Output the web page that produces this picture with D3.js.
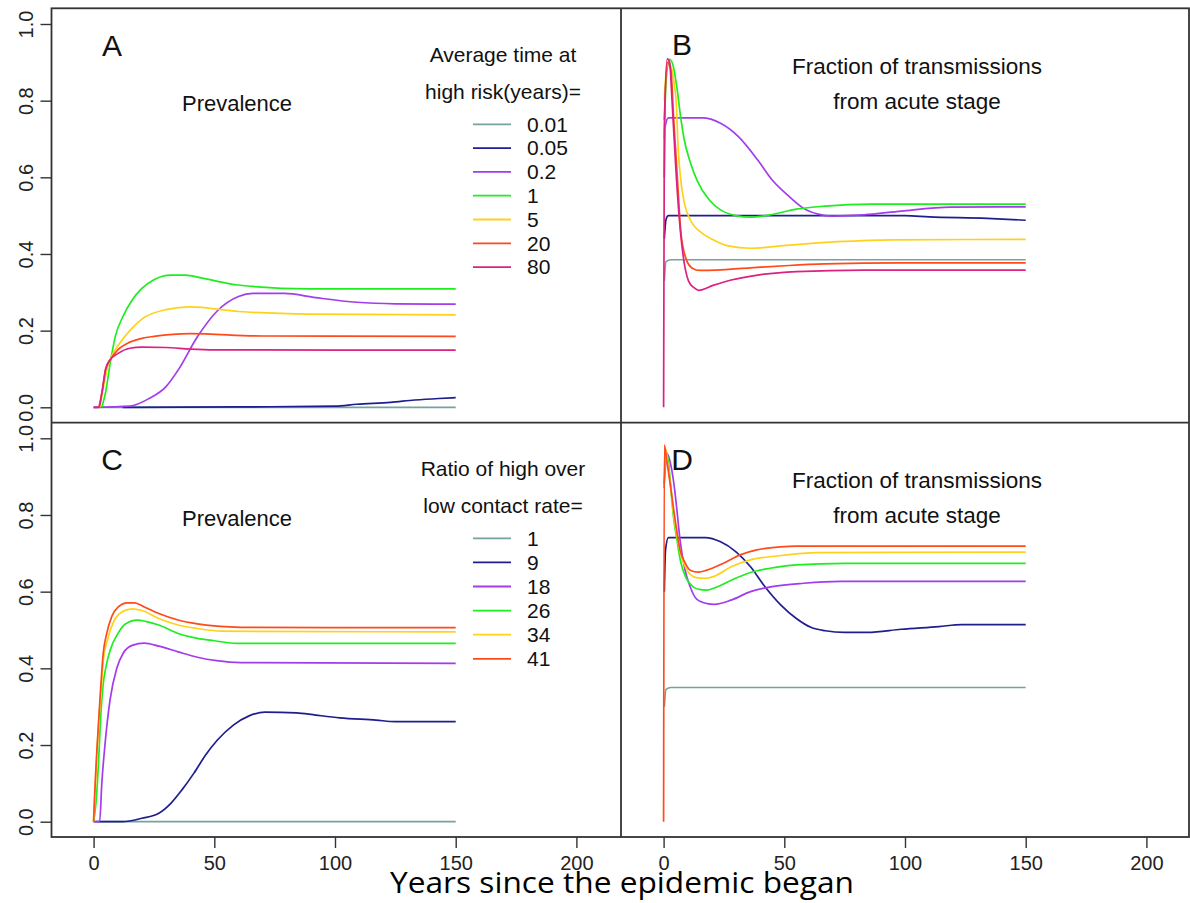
<!DOCTYPE html>
<html>
<head>
<meta charset="utf-8">
<script src="https://cdn.jsdelivr.net/npm/d3@7"></script>
<style>
  body { margin: 0; background: #fff; }
  svg { display: block; }
  .lab { font-family: "Liberation Sans", Arial, sans-serif; fill: #111; }
  .tick text { font-family: "Liberation Sans", Arial, sans-serif; font-size: 20px; fill: #222; }
</style>
</head>
<body>
<svg id="chart" width="1190" height="903"></svg>
<script>
// tick values
const xTicks = [0, 50, 100, 150, 200];
const yTicks = [0, 0.2, 0.4, 0.6, 0.8, 1.0];

// legend labels
const legendA = ['0.01', '0.05', '0.2', '1', '5', '20', '80'];
const legendC = ['1', '9', '18', '26', '34', '41'];
const colors = ['#76A2A2', '#1E1E8E', '#A23CEC', '#1EEE1E', '#FFD21A', '#FF4A1A', '#DA2282'];

// Panel A: prevalence, one curve per average time at high risk  [year, value]
const panelA = [
  [[0, 0], [150, 0]],
  [[12, 0], [60, 0.001], [100, 0.003], [109, 0.008], [123, 0.013], [133, 0.019], [143, 0.023], [150, 0.025]],
  [[0, 0], [15, 0.003], [23, 0.023], [30, 0.054], [35, 0.097], [43, 0.184], [51, 0.25], [60, 0.289], [66, 0.297], [79, 0.297], [92, 0.286], [109, 0.274], [125, 0.27], [150, 0.269]],
  [[3.4, 0], [5, 0.04], [7, 0.12], [9, 0.185], [12, 0.235], [16, 0.28], [20, 0.31], [25, 0.333], [32, 0.345], [38, 0.345], [45, 0.337], [60, 0.319], [89, 0.309], [150, 0.309]],
  [[2.5, 0], [4, 0.05], [6, 0.11], [8, 0.14], [10, 0.16], [15, 0.2], [20, 0.23], [30, 0.255], [40, 0.262], [60, 0.25], [90, 0.243], [150, 0.241]],
  [[2.2, 0], [3.5, 0.04], [5, 0.1], [7, 0.125], [10, 0.15], [15, 0.17], [20, 0.18], [25, 0.185], [40, 0.192], [70, 0.186], [150, 0.185]],
  [[0, 0], [2.2, 0], [3.5, 0.04], [5, 0.1], [7, 0.125], [10, 0.14], [15, 0.154], [20, 0.157], [30, 0.156], [40, 0.152], [50, 0.15], [150, 0.149]]
];

// Panel B: fraction of transmissions from acute stage
const panelB = [
  [[0.3, 0.33], [1, 0.38], [3, 0.385], [150, 0.385]],
  [[0.3, 0.44], [1, 0.49], [2, 0.5], [100, 0.5], [110, 0.497], [134, 0.493], [150, 0.488]],
  [[0.3, 0.6], [0.6, 0.73], [2, 0.755], [16, 0.755], [23.6, 0.741], [31, 0.706], [39, 0.645], [45, 0.593], [52, 0.55], [58, 0.519], [64, 0.504], [70, 0.499], [83, 0.502], [98.5, 0.512], [119, 0.522], [150, 0.523]],
  [[0.3, 0.7], [1, 0.85], [2.5, 0.908], [4, 0.89], [5.6, 0.83], [7, 0.76], [8.5, 0.7], [11, 0.64], [14, 0.59], [19, 0.54], [23.6, 0.515], [30, 0.5], [36, 0.496], [44, 0.502], [55, 0.517], [67, 0.525], [86, 0.53], [150, 0.53]],
  [[0.3, 0.8], [1.5, 0.9], [3, 0.89], [4.5, 0.84], [5.3, 0.79], [6, 0.68], [7, 0.6], [8.7, 0.53], [11, 0.49], [15.8, 0.455], [20.5, 0.437], [26.7, 0.421], [36, 0.415], [52, 0.423], [72, 0.432], [95, 0.437], [150, 0.438]],
  [[0.3, 0.75], [1.5, 0.9], [3, 0.88], [4.2, 0.75], [5.6, 0.61], [7.2, 0.454], [9.5, 0.384], [11.9, 0.363], [15, 0.357], [22, 0.358], [36, 0.364], [52, 0.37], [67, 0.374], [98, 0.377], [150, 0.377]],
  [[0, 0], [0.3, 0.72], [1.5, 0.909], [2.5, 0.9], [3.5, 0.8], [5, 0.63], [6.4, 0.5], [8, 0.4], [10.3, 0.33], [12.6, 0.312], [14.5, 0.305], [20.5, 0.318], [28, 0.332], [39, 0.345], [55, 0.354], [83, 0.358], [150, 0.358]]
];

// Panel C: prevalence, one curve per ratio of high over low contact rate
const panelC = [
  [[2, 0], [150, 0]],
  [[0, 0], [12, 0], [20, 0.009], [27, 0.022], [32, 0.048], [36.6, 0.083], [41.5, 0.126], [46.4, 0.174], [51.3, 0.213], [57.9, 0.252], [64.4, 0.276], [71, 0.286], [84, 0.284], [92, 0.278], [102, 0.271], [117, 0.265], [125, 0.261], [150, 0.261]],
  [[0, 0], [2.5, 0], [3.4, 0.1], [4.7, 0.2], [6.8, 0.317], [9.6, 0.4], [12.3, 0.44], [16, 0.46], [21, 0.466], [27, 0.458], [35, 0.443], [43, 0.429], [51, 0.42], [61, 0.415], [150, 0.413]],
  [[0, 0], [1, 0.05], [2, 0.15], [3, 0.28], [4, 0.36], [5, 0.4], [7, 0.45], [10, 0.49], [13, 0.515], [18, 0.526], [22, 0.522], [27, 0.513], [35, 0.491], [43, 0.478], [50, 0.472], [59.5, 0.465], [150, 0.465]],
  [[0, 0], [0.8, 0.1], [2, 0.25], [3, 0.33], [4, 0.42], [6, 0.48], [9, 0.53], [12, 0.548], [16, 0.555], [20, 0.551], [27, 0.53], [35, 0.513], [43, 0.504], [53, 0.497], [150, 0.495]],
  [[0, 0], [0.3, 0.05], [1.3, 0.18], [2.7, 0.326], [4, 0.44], [5.4, 0.49], [7.5, 0.535], [10.2, 0.56], [14, 0.571], [17, 0.571], [21, 0.56], [27, 0.543], [35, 0.526], [43, 0.516], [51, 0.51], [61, 0.507], [150, 0.506]]
];

// Panel D: fraction of transmissions from acute stage
const panelD = [
  [[0.3, 0.3], [1, 0.345], [3, 0.35], [150, 0.35]],
  [[0.3, 0.6], [0.8, 0.709], [2, 0.741], [17.3, 0.741], [23.6, 0.73], [30, 0.704], [36, 0.665], [42, 0.613], [48.6, 0.565], [55, 0.53], [61, 0.507], [67, 0.498], [75, 0.494], [84.5, 0.494], [98.5, 0.502], [114, 0.509], [123.5, 0.514], [150, 0.514]],
  [[0.2, 0.88], [1.5, 0.96], [3, 0.93], [4.5, 0.87], [5.4, 0.82], [6.8, 0.735], [8.9, 0.656], [11, 0.613], [13.8, 0.58], [18, 0.569], [21, 0.567], [28, 0.578], [36, 0.6], [45, 0.613], [58, 0.622], [73.5, 0.627], [150, 0.627]],
  [[0.2, 0.87], [1, 0.965], [2, 0.94], [3, 0.87], [4, 0.8], [5.4, 0.74], [7, 0.68], [9, 0.64], [11, 0.62], [14, 0.607], [18, 0.604], [22, 0.612], [28, 0.63], [36, 0.65], [44, 0.661], [55, 0.67], [75, 0.674], [150, 0.674]],
  [[0.2, 0.9], [0.7, 0.975], [2, 0.92], [3, 0.87], [4, 0.81], [5.4, 0.75], [7, 0.7], [9, 0.665], [11, 0.645], [14, 0.636], [17, 0.635], [21, 0.64], [28, 0.665], [36, 0.683], [47, 0.693], [64, 0.702], [150, 0.703]],
  [[0, 0], [0.3, 0.982], [1.3, 0.943], [2.7, 0.883], [4, 0.822], [5.4, 0.761], [6.8, 0.709], [8.9, 0.675], [11, 0.656], [14.4, 0.651], [17.9, 0.656], [24.8, 0.674], [31.7, 0.696], [38.6, 0.709], [48.3, 0.717], [55, 0.719], [150, 0.719]]
];

const svg = d3.select('#chart');

// scales
const xLeft = d3.scaleLinear().domain([0, 200]).range([93.6, 576.4]);
const xRight = d3.scaleLinear().domain([0, 200]).range([663.6, 1146.4]);
const yTop = d3.scaleLinear().domain([0, 1]).range([407.3, 24]);
const yBottom = d3.scaleLinear().domain([0, 1]).range([821.7, 438.3]);

// frame
const frame = { left: 51.5, right: 1189, top: 8.3, mid: 422.7, bottom: 837, split: 621 };
const fr = svg.append('g').attr('stroke', '#333').attr('stroke-width', 1.8).attr('fill', 'none');
fr.append('rect').attr('x', frame.left).attr('y', frame.top)
  .attr('width', frame.right - frame.left).attr('height', frame.bottom - frame.top);
fr.append('line').attr('x1', frame.left).attr('x2', frame.right).attr('y1', frame.mid).attr('y2', frame.mid);
fr.append('line').attr('x1', frame.split).attr('x2', frame.split).attr('y1', frame.top).attr('y2', frame.bottom);

// y axes (left side only)
[yTop, yBottom].forEach(y => {
  const g = svg.append('g')
    .attr('transform', `translate(${frame.left},0)`)
    .call(d3.axisLeft(y).tickValues(yTicks).tickSize(11).tickFormat(d3.format('.1f')));
  g.select('.domain').remove();
  g.selectAll('.tick line').attr('stroke', '#333').attr('stroke-width', 1.4);
  g.selectAll('.tick text')
    .attr('x', null).attr('dy', null)
    .attr('text-anchor', 'middle')
    .attr('transform', 'translate(-18.5,0) rotate(-90)');
});

// x axes (bottom only)
[xLeft, xRight].forEach(x => {
  const g = svg.append('g')
    .attr('transform', `translate(0,${frame.bottom})`)
    .call(d3.axisBottom(x).tickValues(xTicks).tickSize(11));
  g.select('.domain').remove();
  g.selectAll('.tick line').attr('stroke', '#333').attr('stroke-width', 1.4);
  g.selectAll('.tick text').attr('y', 33).attr('dy', null);
});

// curves
function drawPanel(series, x, y) {
  const line = d3.line()
    .x(d => x(d[0]))
    .y(d => y(d[1]))
    .curve(d3.curveMonotoneX);
  svg.append('g')
    .selectAll('path')
    .data(series)
    .join('path')
    .attr('d', line)
    .attr('fill', 'none')
    .attr('stroke', (d, i) => colors[i])
    .attr('stroke-width', 1.7);
}
drawPanel(panelA, xLeft, yTop);
drawPanel(panelB, xRight, yTop);
drawPanel(panelC, xLeft, yBottom);
drawPanel(panelD, xRight, yBottom);

// text helper
function label(txt, x, y, size, anchor) {
  svg.append('text')
    .attr('class', 'lab')
    .attr('x', x).attr('y', y)
    .attr('dy', '0.35em')
    .attr('text-anchor', anchor || 'middle')
    .style('font-size', size + 'px')
    .text(txt);
}

// panel letters
label('A', 112, 45, 30);
label('B', 682, 44, 30);
label('C', 112, 459, 30);
label('D', 682, 459, 30);

// panel titles
label('Prevalence', 237, 103, 22);
label('Prevalence', 237, 518, 22);
label('Fraction of transmissions', 917, 66, 22.5);
label('from acute stage', 917, 101, 22.5);
label('Fraction of transmissions', 917, 480, 22.5);
label('from acute stage', 917, 515, 22.5);

// legends
function legend(title1, title2, items, ty, rowY, rowStep) {
  label(title1, 503, ty, 21);
  label(title2, 503, ty + 37, 21);
  const g = svg.append('g');
  items.forEach((name, i) => {
    const yy = rowY + rowStep * i;
    g.append('line')
      .attr('x1', 473).attr('x2', 511).attr('y1', yy).attr('y2', yy)
      .attr('stroke', colors[i]).attr('stroke-width', 1.8);
    label(name, 527, yy, 21, 'start');
  });
}
legend('Average time at', 'high risk(years)=', legendA, 55, 124.3, 23.8);
legend('Ratio of high over', 'low contact rate=', legendC, 469, 538.3, 24.1);

// x axis title
svg.append('text')
  .attr('x', 622).attr('y', 893)
  .attr('text-anchor', 'middle')
  .attr('textLength', 464).attr('lengthAdjust', 'spacingAndGlyphs')
  .style('font-family', '"Open Sans", sans-serif')
  .style('font-size', '29px')
  .attr('fill', '#000')
  .text('Years since the epidemic began');
</script>
</body>
</html>
